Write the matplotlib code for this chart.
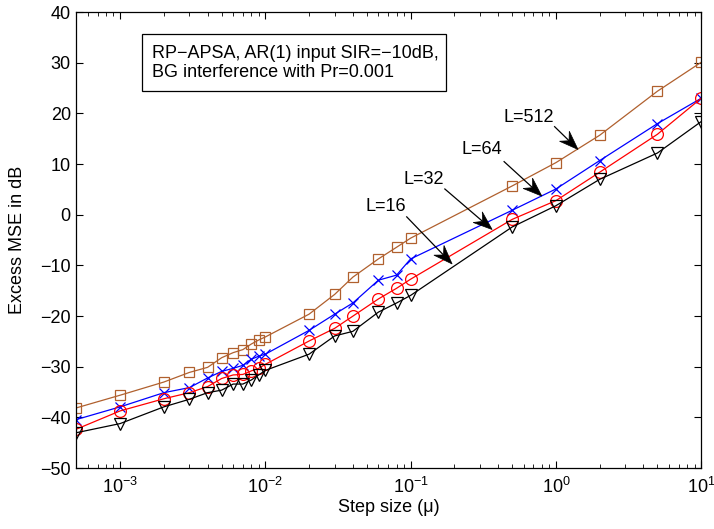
import matplotlib
matplotlib.use("Agg")
import matplotlib.pyplot as plt
import numpy as np
from matplotlib.ticker import LogLocator, FixedLocator
from matplotlib.patches import Rectangle, Polygon
from matplotlib.transforms import IdentityTransform

plt.rcParams['font.family'] = ['Liberation Sans', 'DejaVu Sans']
plt.rcParams['axes.unicode_minus'] = True
plt.rcParams['mathtext.fontset'] = 'custom'
plt.rcParams['mathtext.rm'] = 'Liberation Sans'
plt.rcParams['mathtext.it'] = 'Liberation Sans:italic'

step = [5e-4, 1e-3, 2e-3, 3e-3, 4e-3, 5e-3, 6e-3, 7e-3, 8e-3, 9e-3, 1e-2,
        2e-2, 3e-2, 4e-2, 6e-2, 8e-2, 0.1, 0.5, 1, 2, 5, 10]

mse_L512 = [-38.1, -35.6, -33.0, -31.1, -30.1, -28.2, -27.2, -26.6, -25.5, -24.7, -24.1,
            -19.6, -15.7, -12.3, -8.7, -6.4, -4.6, 5.7, 10.3, 15.7, 24.4, 30.1]
mse_L64 = [-40.4, -37.9, -35.1, -34.1, -32.2, -30.9, -30.3, -29.7, -28.5, -27.9, -27.5,
           -22.8, -19.6, -17.4, -12.9, -11.9, -8.7, 0.9, 5.1, 10.7, 18.0, 23.0]
mse_L32 = [-42.3, -38.7, -36.3, -35.1, -33.9, -32.3, -31.6, -31.5, -30.8, -30.3, -29.5,
           -24.9, -22.4, -20.0, -16.6, -14.5, -12.7, -0.9, 2.8, 8.4, 15.9, 23.0]
mse_L16 = [-43.0, -41.2, -37.9, -36.4, -35.1, -34.6, -33.4, -33.4, -32.6, -31.6, -30.7,
           -27.5, -23.9, -23.0, -19.2, -17.4, -15.9, -2.4, 1.8, 7.0, 12.2, 18.4]

labels = ["L=512", "L=64", "L=32", "L=16"]
label_pos = [(0.65, 19.3), (0.31, 12.8), (0.124, 7.0), (0.0675, 1.7)]
arrow_start = [(0.98, 17.4), (0.44, 10.5), (0.172, 5.1), (0.094, -0.4)]
arrow_tip = [(1.42, 12.9), (0.80, 3.7), (0.364, -2.9), (0.193, -9.7)]

yticks = [-50, -40, -30, -20, -10, 0, 10, 20, 30, 40]

FS = 13
fig = plt.figure(figsize=(7.14, 5.29), dpi=100)
ax = fig.add_axes([0.107, 0.115, 0.875, 0.862])

brown = '#b0602e'
ax.plot(step, mse_L512, color=brown, lw=0.9, marker='s', ms=6.5, mfc='none', mec=brown, mew=0.9)
ax.plot(step, mse_L64, color='#0000ff', lw=0.9, marker='x', ms=6.5, mec='#0000ff', mew=0.9)
ax.plot(step, mse_L32, color='#ff0000', lw=0.9, marker='o', ms=8.5, mfc='none', mec='#ff0000', mew=0.9)
ax.plot(step, mse_L16, color='black', lw=0.9, marker='v', ms=9, mfc='none', mec='black', mew=0.9)

ax.set_xscale('log')
ax.set_xlim(5e-4, 10)
ax.set_ylim(-50, 40)
ax.yaxis.set_major_locator(FixedLocator(yticks))
ax.xaxis.set_major_locator(LogLocator(base=10, numticks=10))
ax.xaxis.set_minor_locator(LogLocator(base=10, subs=range(2, 10), numticks=20))
ax.tick_params(which='both', direction='in', top=True, right=True, labelsize=FS)
ax.tick_params(which='major', length=5, width=0.8)
ax.tick_params(which='minor', length=3, width=0.6)
ax.tick_params(axis='x', which='major', pad=6)
ax.tick_params(axis='y', which='major', pad=4)
for s in ax.spines.values():
    s.set_linewidth(0.9)

ax.set_xlabel('Step size (μ)', fontsize=FS, va='top')
ax.xaxis.set_label_coords(0.5, -0.068)
ax.set_ylabel('Excess MSE in dB', fontsize=FS)
ax.yaxis.set_label_coords(-0.08, 0.5)

ax.add_patch(Rectangle((0.1045, 0.828), 0.4872, 0.124, transform=ax.transAxes,
                       fill=True, fc='white', ec='black', lw=0.9, zorder=5))
ax.text(0.1205, 0.8886, "RP\u2212APSA, AR(1) input SIR=\u221210dB,\nBG interference with Pr=0.001",
        transform=ax.transAxes, fontsize=FS, ha='left', va='center', linespacing=1.15, zorder=6)

# annotation arrows with concave heads, drawn in pixel space from data positions
fig.canvas.draw()
head_len, head_half, notch = 19.0, 7.0, 12.5
for lab, pos, st, tip in zip(labels, label_pos, arrow_start, arrow_tip):
    ax.text(pos[0], pos[1], lab, fontsize=FS, ha='center', va='center')
    p0 = ax.transData.transform(st)
    p1 = ax.transData.transform(tip)
    d = p1 - p0
    u = d / np.hypot(*d)
    n = np.array([-u[1], u[0]])
    back = p1 - u * head_len
    nt = p1 - u * notch
    line_end = ax.transData.inverted().transform(nt)
    ax.plot([st[0], line_end[0]], [st[1], line_end[1]], color='black', lw=0.9)
    head = Polygon([p1, back + n * head_half, nt, back - n * head_half], closed=True,
                   fc='black', ec='black', lw=0.5, transform=IdentityTransform())
    fig.add_artist(head)

fig.savefig('out.png', dpi=100)
